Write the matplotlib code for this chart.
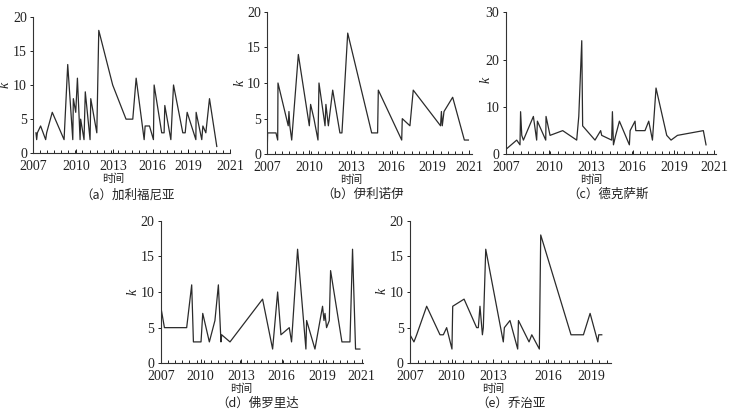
import matplotlib
matplotlib.use('Agg')
import matplotlib.pyplot as plt
from matplotlib.ticker import MultipleLocator

W, H = 734, 415
DPI = 100

year_labels = ['2007', '2010', '2013', '2016', '2019', '2021']
year_labels_e = ['2007', '2010', '2013', '2016', '2019']

# (a) 加利福尼亚
a_time = [2007.19, 2007.24, 2007.29, 2007.52, 2007.88, 2007.95, 2008.35, 2009.19, 2009.45, 2009.81,
          2009.85, 2010.02, 2010.14, 2010.33, 2010.37, 2010.61, 2010.70, 2011.04, 2011.09, 2011.52,
          2011.66, 2012.65, 2013.60, 2014.08, 2014.32, 2014.89, 2014.96, 2015.27, 2015.55, 2015.60,
          2016.14, 2016.31, 2016.36, 2016.79, 2016.98, 2017.64, 2017.81, 2017.95, 2018.57, 2018.59,
          2018.99, 2019.07, 2019.28, 2019.54, 2020.06]
a_k = [3, 2, 3, 4, 2, 3, 6, 2, 13, 2,
       8, 6, 11, 2, 5, 2, 9, 2, 8, 3,
       18, 10, 5, 5, 11, 2, 4, 4, 2, 10,
       3, 3, 7, 2, 10, 3, 3, 6, 2, 6,
       2, 4, 3, 8, 1]
a_ticks = [2007, 2010.04, 2012.7, 2015.5, 2018.03, 2021]

# (b) 伊利诺伊
b_time = [2007.0, 2007.02, 2007.6, 2007.72, 2007.74, 2008.45, 2008.5, 2008.56, 2008.69, 2009.15,
          2009.91, 2010.0, 2010.23, 2010.51, 2010.58, 2011.0, 2011.06, 2011.23, 2011.53, 2012.03,
          2012.17, 2012.57, 2014.23, 2014.64, 2014.69, 2016.31, 2016.35, 2016.88, 2017.11, 2019.0,
          2019.06, 2019.12, 2019.24, 2019.84, 2020.65, 2020.93]
b_k = [1, 3, 3, 2, 10, 4, 6, 4, 2, 14,
       4, 7, 5, 2, 10, 4, 7, 4, 9, 3,
       3, 17, 3, 3, 9, 2, 5, 4, 9, 4,
       6, 4, 6, 8, 2, 2]
b_ticks = [2007, 2009.91, 2012.8, 2015.61, 2018.45, 2021]

# (c) 德克萨斯
c_time = [2007.0, 2007.74, 2007.96, 2008.0, 2008.08, 2008.19, 2008.86, 2009.08, 2009.13, 2009.69,
          2009.71, 2009.98, 2010.83, 2011.77, 2011.91, 2012.11, 2012.17, 2013.0, 2013.38, 2013.45,
          2014.12, 2014.17, 2014.24, 2014.39, 2014.64, 2015.31, 2015.36, 2015.69, 2015.74, 2016.36,
          2016.61, 2016.86, 2017.1, 2017.82, 2018.11, 2018.54, 2020.28, 2020.46]
c_k = [1, 3, 2, 9, 4, 3, 8, 3, 7, 3,
       8, 4, 5, 3, 8, 24, 6, 3, 5, 4,
       3, 9, 2, 4, 7, 2, 5, 7, 5, 5,
       7, 3, 14, 4, 3, 4, 5, 2]
c_ticks = [2007, 2009.93, 2012.73, 2015.53, 2018.33, 2021]

# (d) 佛罗里达
d_time = [2007.0, 2007.26, 2008.81, 2009.16, 2009.28, 2009.81, 2009.93, 2010.39, 2010.78, 2011.02,
          2011.2, 2011.25, 2011.83, 2014.1, 2014.8, 2015.15, 2015.38, 2015.96, 2016.12, 2016.54,
          2017.12, 2017.17, 2017.75, 2018.28, 2018.38, 2018.45, 2018.56, 2018.75, 2018.84, 2019.63,
          2020.19, 2020.37, 2020.58, 2020.88]
d_k = [8, 5, 5, 11, 3, 3, 7, 3, 6, 11,
       3, 4, 3, 9, 2, 10, 4, 5, 3, 16,
       2, 6, 2, 8, 6, 7, 5, 6, 13, 3,
       3, 16, 2, 2]
d_ticks = [2007, 2009.79, 2012.6, 2015.43, 2018.28, 2021]

# (e) 乔治亚
e_time = [2007.0, 2007.26, 2007.44, 2008.1, 2008.98, 2009.2, 2009.42, 2009.77, 2009.82, 2010.57,
          2011.4, 2011.51, 2011.62, 2011.78, 2011.84, 2012.0, 2013.16, 2013.23, 2013.6, 2014.11,
          2014.16, 2014.86, 2015.04, 2015.54, 2015.63, 2017.63, 2018.45, 2018.89, 2019.4, 2019.46,
          2019.66]
e_k = [4, 3, 4, 8, 4, 4, 5, 2, 8, 9,
       5, 5, 8, 4, 5, 16, 3, 5, 6, 2,
       6, 3, 4, 2, 18, 4, 4, 7, 3, 4,
       4]
e_ticks = [2007, 2009.75, 2012.5, 2016.14, 2019]


def px_rect(x0, x1, ytop, ybot):
    return [x0 / W, 1 - ybot / H, (x1 - x0) / W, (ybot - ytop) / H]


def draw_panel(fig, rect, t, k, ticks, labels, xmax, ymax, ystep, caption, cap_xy, k_xy):
    ax = fig.add_axes(px_rect(*rect))
    ax.plot(t, k, color='#2b2b2b', lw=0.9)
    ax.set_xlim(2007, xmax)
    ax.set_ylim(0, ymax)
    ax.set_xticks(ticks)
    ax.set_xticklabels(labels, fontsize=10, family='Liberation Serif')
    ax.xaxis.set_minor_locator(MultipleLocator(0.5))
    ax.set_yticks(range(0, ymax + 1, ystep))
    ax.set_yticklabels([str(v) for v in range(0, ymax + 1, ystep)], fontsize=10,
                       family='Liberation Serif')
    ax.tick_params(axis='x', which='major', direction='in', length=3, width=0.7, pad=5, colors='#222')
    ax.tick_params(axis='x', which='minor', direction='in', length=2, width=0.6)
    ax.tick_params(axis='y', direction='out', length=2.5, width=0.7, pad=2, colors='#222')
    for s in ['top', 'right']:
        ax.spines[s].set_visible(False)
    for s in ['left', 'bottom']:
        ax.spines[s].set_linewidth(0.8)
        ax.spines[s].set_color('#333')
    ax.annotate('时间', xy=(ticks[2], 0), xycoords=('data', 'axes fraction'),
                xytext=(0, -20), textcoords='offset pixels', ha='center', va='top',
                fontsize=8, family='Noto Sans CJK SC', color='#222')
    fig.text(k_xy[0] / W, 1 - k_xy[1] / H, 'k', rotation=90, style='italic',
             family='Liberation Serif', fontsize=10, ha='center', va='center', color='#222')
    fig.text(cap_xy[0] / W, 1 - cap_xy[1] / H, caption, ha='center', va='center',
             fontsize=9, family=['Noto Sans CJK SC', 'DejaVu Sans'], color='#222')
    return ax


fig = plt.figure(figsize=(W / DPI, H / DPI), dpi=DPI)

draw_panel(fig, (33.3, 230, 16.7, 153.3), a_time, a_k, a_ticks, year_labels, 2021, 20, 5,
           '（a）加利福尼亚', (128, 195), (5, 85))
draw_panel(fig, (267.3, 472.3, 11.7, 154.3), b_time, b_k, b_ticks, year_labels, 2021.2, 20, 5,
           '（b）伊利诺伊', (363, 194), (240, 83))
draw_panel(fig, (505.7, 715.7, 12.3, 154.3), c_time, c_k, c_ticks, year_labels, 2021.11, 30, 10,
           '（c）德克萨斯', (608, 194), (486, 80))
draw_panel(fig, (160.7, 363.3, 220.7, 363.3), d_time, d_k, d_ticks, year_labels, 2021.12, 20, 5,
           '（d）佛罗里达', (258, 403), (133, 292))
draw_panel(fig, (410, 610.7, 220.7, 363.3), e_time, e_k, e_ticks, year_labels_e, 2020.25, 20, 5,
           '（e）乔治亚', (511, 403), (382, 291))

fig.savefig('out.png', dpi=DPI)
